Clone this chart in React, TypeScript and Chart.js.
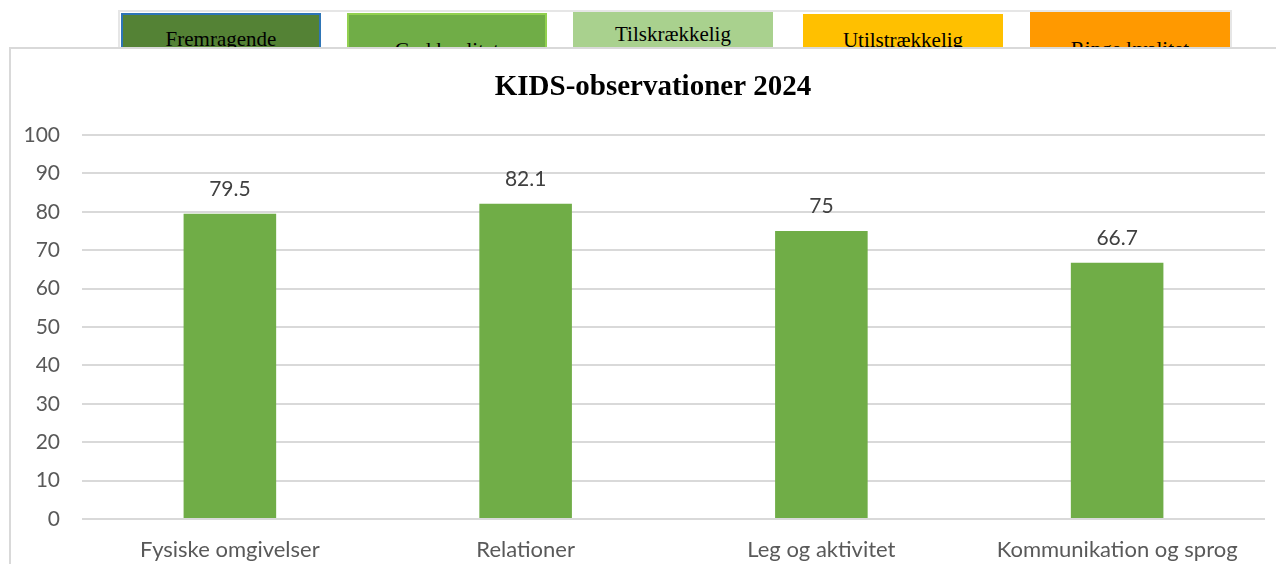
import React, { useEffect, useRef } from "react";
import { Chart, registerables } from "chart.js";

Chart.register(...registerables);

const categories = ["Fysiske omgivelser", "Relationer", "Leg og aktivitet", "Kommunikation og sprog"];
const values = [79.5, 82.1, 75, 66.7];
const legendLabels = ["Fremragende", "God kvalitet", "Tilskrækkelig", "Utilstrækkelig", "Ringe kvalitet"];
const legendColors = ["#548235", "#70AD47", "#A9D18E", "#FFC000", "#FF9900"];
const title = "KIDS-observationer 2024";

const legendBoxes = [
  { left: 121, top: 13, border: "#2E75B6", textTop: 26 },
  { left: 347, top: 13, border: "#92D050", textTop: 37 },
  { left: 573, top: 12, border: "#A9D18E", textTop: 21 },
  { left: 803, top: 14, border: "#FFC000", textTop: 27 },
  { left: 1030, top: 12, border: "#FF9900", textTop: 36 },
];

const valueLabels = {
  id: "valueLabels",
  afterDatasetsDraw(chart: any) {
    const ctx = chart.ctx;
    const meta = chart.getDatasetMeta(0);
    ctx.save();
    ctx.font = "21px Lato, 'Open Sans', sans-serif";
    ctx.fillStyle = "#404040";
    ctx.textAlign = "center";
    ctx.textBaseline = "bottom";
    meta.data.forEach((el: any, i: number) => {
      ctx.fillText(String(values[i]), el.x, el.y - 14);
    });
    ctx.restore();
  },
};

const centeredTitle = {
  id: "centeredTitle",
  afterDraw(chart: any) {
    const ctx = chart.ctx;
    ctx.save();
    ctx.font = "bold 29px 'Liberation Serif', 'Times New Roman', serif";
    ctx.fillStyle = "#000000";
    ctx.textAlign = "center";
    ctx.textBaseline = "middle";
    ctx.fillText(title, chart.width / 2, 38);
    ctx.restore();
  },
};

export default function App() {
  const ref = useRef<HTMLCanvasElement>(null);
  useEffect(() => {
    if (!ref.current) return;
    const chart = new Chart(ref.current, {
      type: "bar",
      data: {
        labels: categories,
        datasets: [
          {
            data: values,
            backgroundColor: "#70AD47",
            categoryPercentage: 1,
            barPercentage: 0.313,
          },
        ],
      },
      options: {
        animation: false,
        responsive: false,
        maintainAspectRatio: false,
        layout: { padding: { left: 0, right: 29, top: 85, bottom: 0 } },
        plugins: {
          legend: { display: false },
          tooltip: { enabled: false },
          title: { display: false },
        },
        scales: {
          x: {
            grid: { display: false },
            border: { display: false },
            ticks: {
              color: "#595959",
              font: { family: "Lato, 'Open Sans', sans-serif", size: 22 },
              padding: 10,
              maxRotation: 0,
            },
            afterFit(scale: any) {
              scale.height = 53;
            },
          },
          y: {
            min: 0,
            max: 100,
            ticks: {
              stepSize: 10,
              color: "#595959",
              font: { family: "Lato, 'Open Sans', sans-serif", size: 21 },
              padding: 22,
            },
            grid: { color: "#D9D9D9", lineWidth: 2, drawTicks: false },
            border: { display: false },
            afterFit(scale: any) {
              scale.width = 70;
            },
          },
        },
      },
      plugins: [valueLabels, centeredTitle],
    });
    return () => chart.destroy();
  }, []);

  return (
    <div style={{ position: "relative", width: 1284, height: 572, margin: -8, overflow: "hidden", background: "#fff" }}>
      <div
        style={{
          position: "absolute",
          left: 118,
          top: 10,
          width: 1114,
          height: 60,
          border: "2px solid #E6E6E6",
          boxSizing: "border-box",
        }}
      />
      {legendLabels.map((lab, i) => (
        <div
          key={lab}
          style={{
            position: "absolute",
            left: legendBoxes[i].left,
            top: legendBoxes[i].top,
            width: 200,
            height: 50,
            background: legendColors[i],
            borderTop: `2px solid ${legendBoxes[i].border}`,
            borderLeft: `2px solid ${legendBoxes[i].border}`,
            borderRight: `2px solid ${legendBoxes[i].border}`,
            boxSizing: "border-box",
            overflow: "hidden",
          }}
        >
          <div
            style={{
              position: "absolute",
              left: 0,
              right: 0,
              top: legendBoxes[i].textTop - legendBoxes[i].top,
              textAlign: "center",
              fontFamily: "'Liberation Serif', 'Times New Roman', serif",
              fontSize: 21,
              color: "#000",
              lineHeight: "22px",
              whiteSpace: "nowrap",
            }}
          >
            {lab}
          </div>
        </div>
      ))}
      <div
        style={{
          position: "absolute",
          left: 9,
          top: 47,
          width: 1290,
          height: 540,
          background: "#fff",
          border: "2px solid #D9D9D9",
          boxSizing: "border-box",
        }}
      />
      <canvas
        ref={ref}
        width={1282}
        height={522}
        style={{ position: "absolute", left: 12, top: 50, width: 1282, height: 522 }}
      />
    </div>
  );
}
